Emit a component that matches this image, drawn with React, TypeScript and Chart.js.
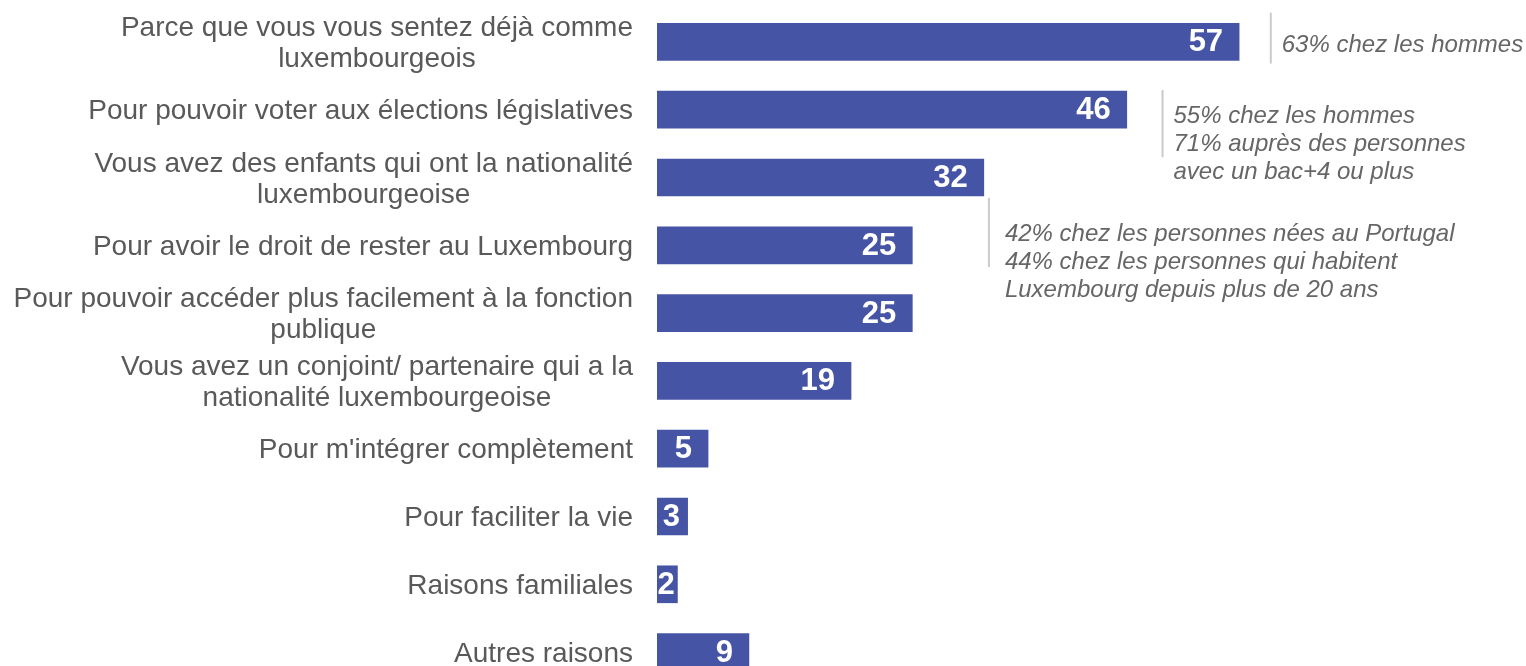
import React, { useEffect, useRef } from "react";
import { Chart, registerables } from "chart.js";

Chart.register(...registerables);

const categories: string[][] = [
  ["Parce que vous vous sentez déjà comme", "luxembourgeois"],
  ["Pour pouvoir voter aux élections législatives"],
  ["Vous avez des enfants qui ont la nationalité", "luxembourgeoise"],
  ["Pour avoir le droit de rester au Luxembourg"],
  ["Pour pouvoir accéder plus facilement à la fonction", "publique"],
  ["Vous avez un conjoint/ partenaire qui a la", "nationalité luxembourgeoise"],
  ["Pour m'intégrer complètement"],
  ["Pour faciliter la vie"],
  ["Raisons familiales"],
  ["Autres raisons"],
];

const values: number[] = [57, 46, 32, 25, 25, 19, 5, 3, 2, 9];

// Side notes: anchor value (x, data units), vertical span in category index units
const noteLines: string[][] = [
  ["63% chez les hommes"],
  ["55% chez les hommes", "71% auprès des personnes", "avec un bac+4 ou plus"],
  [
    "42% chez les personnes nées au Portugal",
    "44% chez les personnes qui habitent",
    "Luxembourg depuis plus de 20 ans",
  ],
];
const noteAnchorValue: number[] = [60.1, 49.5, 32.5];
const noteSpanFrom: number[] = [-0.43, 0.71, 2.3];
const noteSpanTo: number[] = [0.32, 1.7, 3.32];
const noteTextAt: number[] = [0.04, 1.08, 2.82];
const noteTextGap: number[] = [11, 11, 16];

const BAR_COLOR = "#4654a5";
const LABEL_COLOR = "#595959";
const NOTE_COLOR = "#666666";
const NOTE_RULE = "#cacaca";
const FONT = "Arial, 'Liberation Sans', Helvetica, sans-serif";

const labelsPlugin = {
  id: "customLabels",
  afterDatasetsDraw(chart: any) {
    const { ctx, chartArea } = chart;
    const xScale = chart.scales.x;
    const yScale = chart.scales.y;
    ctx.save();
    // category labels (block right-aligned, lines centered)
    ctx.font = `28px ${FONT}`;
    ctx.fillStyle = LABEL_COLOR;
    ctx.textBaseline = "middle";
    ctx.textAlign = "center";
    const rightEdge = chartArea.left - 24;
    const lh = 31;
    categories.forEach((lines, i) => {
      const cy = yScale.getPixelForValue(i) + 2;
      const w = Math.max(...lines.map((l) => ctx.measureText(l).width));
      const cx = rightEdge - w / 2;
      const y0 = cy - ((lines.length - 1) * lh) / 2;
      lines.forEach((l, k) => ctx.fillText(l, cx, y0 + k * lh));
    });

    // data labels
    ctx.font = `bold 31px ${FONT}`;
    ctx.fillStyle = "#ffffff";
    const meta = chart.getDatasetMeta(0);
    meta.data.forEach((bar: any, i: number) => {
      const txt = String(values[i]);
      const w = ctx.measureText(txt).width;
      const start = xScale.getPixelForValue(0);
      const end = bar.x;
      let x = end - 16;
      ctx.textAlign = "right";
      if (x - w < start + 4) {
        ctx.textAlign = "center";
        x = (start + end) / 2 - 1;
      }
      ctx.fillText(txt, x, bar.y + 1);
    });

    // side notes
    noteLines.forEach((lines, n) => {
      const lx = xScale.getPixelForValue(noteAnchorValue[n]);
      const ya = yScale.getPixelForValue(noteSpanFrom[n]);
      const yb = yScale.getPixelForValue(noteSpanTo[n]);
      ctx.strokeStyle = NOTE_RULE;
      ctx.lineWidth = 2;
      ctx.beginPath();
      ctx.moveTo(lx, ya);
      ctx.lineTo(lx, yb);
      ctx.stroke();
      ctx.font = `italic 24px ${FONT}`;
      ctx.fillStyle = NOTE_COLOR;
      ctx.textAlign = "left";
      ctx.textBaseline = "middle";
      const ty = yScale.getPixelForValue(noteTextAt[n]) + 1;
      lines.forEach((l, k) => ctx.fillText(l, lx + noteTextGap[n], ty + k * 28));
    });
    ctx.restore();
  },
};

export default function App() {
  const ref = useRef<HTMLCanvasElement | null>(null);
  useEffect(() => {
    document.documentElement.style.overflow = "hidden";
    document.body.style.overflow = "hidden";
    document.body.style.margin = "0";
    if (!ref.current) return;
    const chart = new Chart(ref.current, {
      type: "bar",
      data: {
        labels: categories.map((c) => c.join(" ")),
        datasets: [
          {
            data: values,
            backgroundColor: BAR_COLOR,
            borderWidth: 0,
            barThickness: 37,
          },
        ],
      },
      options: {
        indexAxis: "y",
        animation: false,
        responsive: false,
        maintainAspectRatio: false,
        layout: { padding: { left: 657, right: 52, top: 8, bottom: 0 } },
        plugins: { legend: { display: false }, tooltip: { enabled: false } },
        scales: {
          x: { display: false, min: 0, max: 80, grid: { display: false } },
          y: { display: false, grid: { display: false } },
        },
      },
      plugins: [labelsPlugin],
    });
    return () => chart.destroy();
  }, []);
  return (
    <div style={{ width: 1526, height: 686 }}>
      <canvas ref={ref} width={1526} height={686} style={{ display: "block" }} />
    </div>
  );
}
